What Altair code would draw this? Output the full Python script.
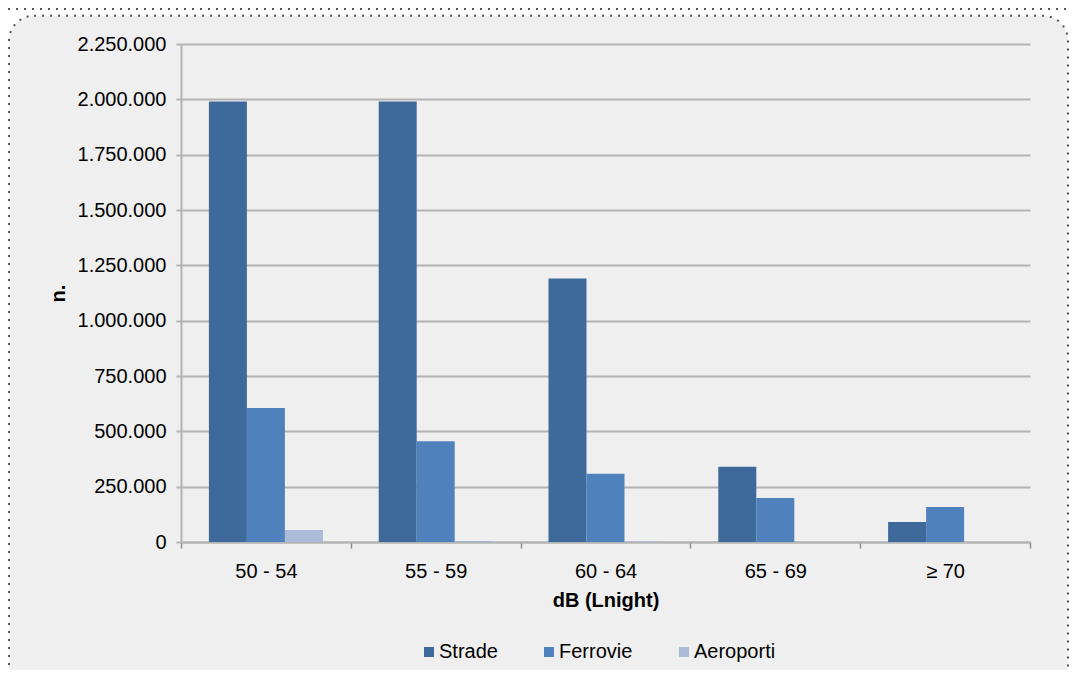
import altair as alt
import pandas as pd

# ---- data ----
categories = ["50 - 54", "55 - 59", "60 - 64", "65 - 69", "≥ 70"]
series = ["Strade", "Ferrovie", "Aeroporti"]
strade = [1990000, 1990000, 1190000, 340000, 90000]
ferrovie = [605000, 455000, 308000, 199000, 158000]
aeroporti = [54000, 4000, 2500, 0, 0]
colors = ["#3E6A9B", "#4F81BD", "#AABAD7"]
y_ticks = [0, 250000, 500000, 750000, 1000000, 1250000, 1500000, 1750000, 2000000, 2250000]

rows = []
for s, vals in zip(series, [strade, ferrovie, aeroporti]):
    for c, v in zip(categories, vals):
        rows.append({"cat": c, "series": s, "value": v})
df = pd.DataFrame(rows)

FONT = "Liberation Sans"
FS = 20
W, H = 849, 498

bars = alt.Chart(df).mark_bar().encode(
    x=alt.X(
        "cat:N",
        sort=categories,
        scale=alt.Scale(paddingInner=0, paddingOuter=0),
        axis=alt.Axis(
            title="dB (Lnight)",
            labelAngle=0,
            labelFont=FONT,
            labelFontSize=FS,
            labelColor="black",
            labelBaseline="middle",
            labelPadding=23,
            titleFont=FONT,
            titleFontSize=FS,
            titleFontWeight="bold",
            titleColor="black",
            titleX=424.5,
            titleY=58,
            titleAlign="center",
            titleBaseline="middle",
            domainColor="#B3B3B3",
            domainWidth=2,
            tickColor="#8C8C8C",
            tickSize=6,
            tickWidth=1.5,
            tickBand="extent",
            grid=False,
        ),
    ),
    xOffset=alt.XOffset(
        "series:N",
        sort=series,
        scale=alt.Scale(paddingInner=0, paddingOuter=0.734),
    ),
    y=alt.Y(
        "value:Q",
        scale=alt.Scale(domain=[0, 2250000], nice=False),
        axis=alt.Axis(
            title="n.",
            values=y_ticks,
            labelExpr="replace(format(datum.value, ','), regexp(',', 'g'), '.')",
            labelFont=FONT,
            labelFontSize=FS,
            labelColor="black",
            labelBaseline="middle",
            labelPadding=10,
            titleFont=FONT,
            titleFontSize=FS,
            titleFontWeight="bold",
            titleColor="black",
            titleAngle=270,
            titleX=-123,
            titleY=249,
            titleAlign="center",
            titleBaseline="middle",
            grid=True,
            gridColor="#B3B3B3",
            gridWidth=2,
            domainColor="#B3B3B3",
            domainWidth=2,
            tickColor="#B3B3B3",
            tickSize=5,
            tickWidth=2,
        ),
    ),
    color=alt.Color(
        "series:N",
        sort=series,
        scale=alt.Scale(domain=series, range=colors),
        legend=alt.Legend(
            title=None,
            orient="none",
            legendX=238,
            legendY=598,
            direction="horizontal",
            symbolType="square",
            symbolSize=100,
            symbolStrokeWidth=0,
            labelFont=FONT,
            labelFontSize=FS,
            labelColor="black",
            labelOffset=0,
            columnPadding=41,
            padding=0,
        ),
    ),
)

one = alt.Data(values=[{"k": 1}])

white_frame = alt.Chart(one).mark_rect(
    fill="white", fillOpacity=0, stroke="white", strokeWidth=40, cornerRadius=45
).encode(
    x=alt.value(-192), x2=alt.value(907), y=alt.value(-48.3), y2=alt.value(666)
)

dotted_frame = alt.Chart(one).mark_rect(
    fill="white", fillOpacity=0, stroke="#555555", strokeWidth=2,
    strokeDash=[2, 6], cornerRadius=25
).encode(
    x=alt.value(-172), x2=alt.value(887), y=alt.value(-28.3), y2=alt.value(646)
)

top_line = alt.Chart(one).mark_rule(
    stroke="#555555", strokeWidth=2, strokeDash=[2, 6]
).encode(
    x=alt.value(-173), x2=alt.value(888), y=alt.value(-35)
)

chart = alt.layer(bars, white_frame, dotted_frame, top_line).properties(
    width=W,
    height=H,
    background="#EFEFEF",
    padding={"left": 173, "top": 36, "right": 39, "bottom": 128},
    autosize=alt.AutoSizeParams(type="none"),
).configure_view(stroke="transparent")

chart.save("out.html", embed_options={"renderer": "svg", "actions": False})
